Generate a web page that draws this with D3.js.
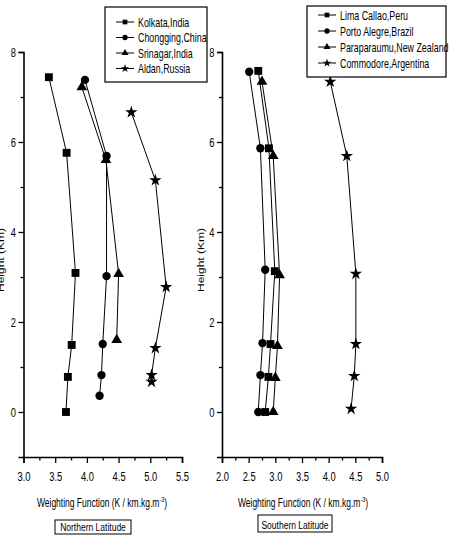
<!DOCTYPE html>
<html>
<head>
<meta charset="utf-8">
<script src="https://cdn.jsdelivr.net/npm/d3@7"></script>
<style>
  body { margin: 0; background: #fff; }
  svg { display: block; }
  text { font-family: "Liberation Sans", Arial, sans-serif; fill: #000; }
</style>
</head>
<body>
<div id="chart"></div>
<script>
// Chart size
var width = 452;
var height = 544;
// horizontal squeeze of the lettering (the original looks like Arial Narrow)
var SQ = 0.72;

// Heights (km) and weighting function values
var northNames = ["Kolkata,India", "Chongging,China", "Srinagar,India", "Aldan,Russia"];
var kolkataX = [3.40, 3.68, 3.82, 3.76, 3.70, 3.67];
var kolkataY = [7.44, 5.76, 3.09, 1.49, 0.78, 0.00];
var chongqingX = [3.97, 4.31, 4.31, 4.25, 4.23, 4.20];
var chongqingY = [7.38, 5.69, 3.02, 1.51, 0.82, 0.36];
var srinagarX = [3.92, 4.30, 4.50, 4.47];
var srinagarY = [7.22, 5.60, 3.07, 1.60];
var aldanX = [4.70, 5.08, 5.25, 5.08, 5.02, 5.02];
var aldanY = [6.66, 5.15, 2.78, 1.42, 0.82, 0.67];

var southNames = ["Lima Callao,Peru", "Porto Alegre,Brazil", "Paraparaumu,New Zealand", "Commodore,Argentina"];
var limaX = [2.68, 2.88, 2.99, 2.91, 2.87, 2.81];
var limaY = [7.58, 5.86, 3.13, 1.51, 0.78, 0.00];
var portoX = [2.51, 2.72, 2.81, 2.76, 2.72, 2.68];
var portoY = [7.56, 5.86, 3.16, 1.53, 0.82, 0.00];
var paraX = [2.75, 2.96, 3.08, 3.04, 3.00, 2.96];
var paraY = [7.34, 5.69, 3.04, 1.47, 0.76, 0.00];
var commodoreX = [4.03, 4.34, 4.51, 4.51, 4.48, 4.42];
var commodoreY = [7.34, 5.69, 3.07, 1.51, 0.80, 0.07];

var yTicks = [0, 2, 4, 6, 8];
var northTicks = [3.0, 3.5, 4.0, 4.5, 5.0, 5.5];
var southTicks = [2.0, 2.5, 3.0, 3.5, 4.0, 4.5, 5.0];

function zip(xs, ys) {
    return xs.map(function(v, i) { return [v, ys[i]]; });
}

var symbols = [d3.symbolSquare, d3.symbolCircle, d3.symbolTriangle, d3.symbolStar];
var symbolSizes = [62, 55, 50, 48];
var legendSizes = [22, 22, 22, 22];

var svg = d3.select("#chart")
    .append("svg")
    .attr("width", width)
    .attr("height", height);

// Shared height scale
var y = d3.scaleLinear().domain([-1, 8]).range([457, 52]);

// squeezed text placed at (x, y)
function label(g, x, yy, size, anchor, sq) {
    return g.append("text")
        .attr("transform", "translate(" + x + "," + yy + ") scale(" + (sq || SQ) + ",1)")
        .attr("text-anchor", anchor || "start")
        .style("font-size", size + "px");
}

function drawPanel(opts) {
    var x = d3.scaleLinear().domain(opts.domain).range(opts.range);
    var g = svg.append("g");

    // y axis
    g.append("g")
        .attr("transform", "translate(" + opts.range[0] + ",0)")
        .call(d3.axisLeft(y).tickValues(yTicks).tickSize(5).tickPadding(5.5).tickFormat(d3.format("d")));
    g.append("g")
        .attr("transform", "translate(" + opts.range[0] + ",0)")
        .call(d3.axisLeft(y).tickValues([1, 3, 5, 7]).tickSize(3).tickFormat(""))
        .select(".domain").remove();

    // x axis
    var minor = d3.range(opts.domain[0] + 0.25, opts.domain[1], 0.5);
    g.append("g")
        .attr("transform", "translate(0,457)")
        .call(d3.axisBottom(x).tickValues(minor).tickSize(3.5).tickFormat(""))
        .select(".domain").remove();
    g.append("g")
        .attr("transform", "translate(0,457)")
        .call(d3.axisBottom(x).tickValues(opts.ticks).tickSize(6).tickPadding(9).tickFormat(d3.format(".1f")));

    g.selectAll(".domain").attr("stroke-width", 1.6).attr("stroke", "#000");
    g.selectAll(".tick line").attr("stroke-width", 1.3).attr("stroke", "#000");
    g.selectAll(".tick text")
        .attr("transform", "scale(" + SQ + ",1)")
        .style("font-size", "13px")
        .attr("fill", "#000");

    // series
    opts.series.forEach(function(pts, i) {
        g.append("path")
            .datum(pts)
            .attr("fill", "none")
            .attr("stroke", "#000")
            .attr("stroke-width", 1)
            .attr("d", d3.line().x(function(d) { return x(d[0]); }).y(function(d) { return y(d[1]); }));
        g.selectAll(null)
            .data(pts)
            .enter()
            .append("path")
            .attr("transform", function(d) { return "translate(" + x(d[0]) + "," + y(d[1]) + ")"; })
            .attr("d", d3.symbol().type(symbols[i]).size(symbolSizes[i]))
            .attr("fill", "#000");
    });

    // axis titles
    g.append("text")
        .attr("transform", "translate(" + opts.ylabelX + ",260) rotate(-90) scale(1," + SQ + ")")
        .attr("text-anchor", "middle")
        .style("font-size", "12px")
        .text("Height (Km)");

    var t = label(g, opts.titleX, 507, 12.5, "middle", 0.68);
    t.append("tspan").text("Weighting Function (K / km.kg.m");
    t.append("tspan").attr("dy", -5).style("font-size", "8px").text("-3");
    t.append("tspan").attr("dy", 5).text(")");

    // latitude box
    var b = opts.box;
    g.append("rect")
        .attr("x", b[0]).attr("y", b[1]).attr("width", b[2]).attr("height", b[3])
        .attr("fill", "none").attr("stroke", "#000").attr("stroke-width", 1);
    label(g, b[0] + b[2] / 2, b[1] + b[3] - 3.5, 11.5, "middle", 0.74).text(opts.boxText);

    // legend
    var L = opts.legend;
    g.append("rect")
        .attr("x", L.x).attr("y", L.y).attr("width", L.w).attr("height", L.h)
        .attr("fill", "#fff").attr("stroke", "#000").attr("stroke-width", 1.2);
    opts.names.forEach(function(name, i) {
        var cy = L.y + L.first + i * L.step;
        g.append("line")
            .attr("x1", L.x + 11).attr("x2", L.x + 29)
            .attr("y1", cy).attr("y2", cy)
            .attr("stroke", "#000").attr("stroke-width", 1);
        g.append("path")
            .attr("transform", "translate(" + (L.x + 20) + "," + cy + ")")
            .attr("d", d3.symbol().type(symbols[i]).size(legendSizes[i]))
            .attr("fill", "#000");
        label(g, L.x + 33, cy + 4.5, 12, "start", 0.74).text(name);
    });
}

drawPanel({
    domain: [3, 5.5],
    range: [23.5, 182],
    ticks: northTicks,
    names: northNames,
    series: [zip(kolkataX, kolkataY), zip(chongqingX, chongqingY), zip(srinagarX, srinagarY), zip(aldanX, aldanY)],
    ylabelX: 4,
    titleX: 102,
    box: [55, 520, 76, 14],
    boxText: "Northern Latitude",
    legend: { x: 105, y: 7, w: 102, h: 75, first: 15, step: 15.5 }
});

drawPanel({
    domain: [2, 5],
    range: [222, 382],
    ticks: southTicks,
    names: southNames,
    series: [zip(limaX, limaY), zip(portoX, portoY), zip(paraX, paraY), zip(commodoreX, commodoreY)],
    ylabelX: 204,
    titleX: 303,
    box: [258, 515, 74, 17],
    boxText: "Southern Latitude",
    legend: { x: 307, y: 6, w: 139, h: 71, first: 9, step: 16 }
});
</script>
</body>
</html>
